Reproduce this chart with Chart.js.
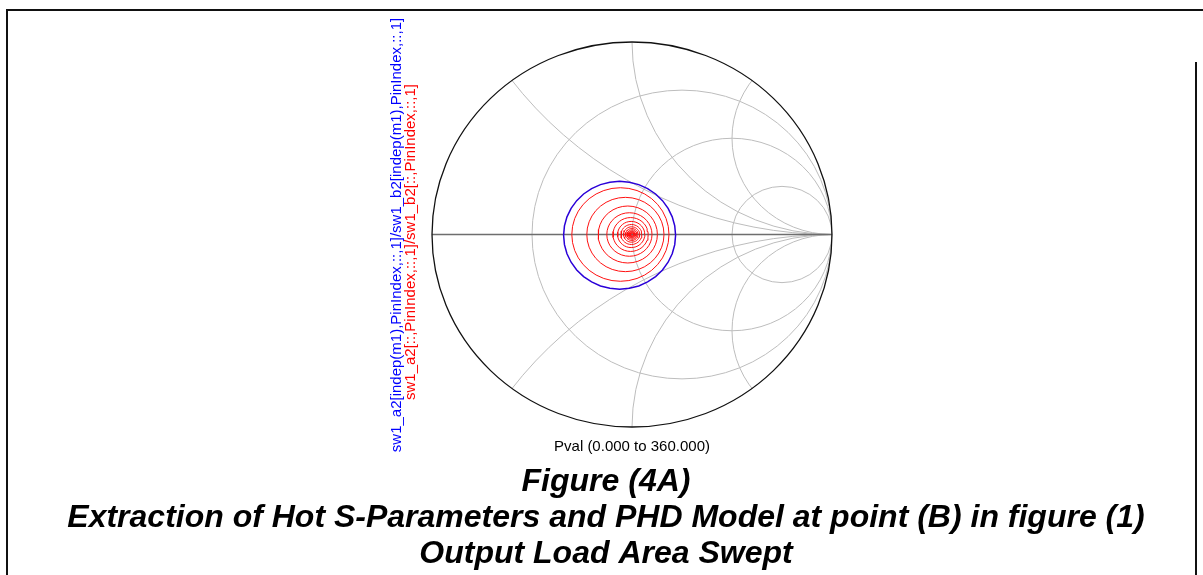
<!DOCTYPE html>
<html lang="en">
<head>
    <meta charset="UTF-8">
    <title>Output Load Area Swept</title>
    <style>
        body {
            margin: 0;
            background: #fff;
        }
        #wrap {
            position: relative;
            width: 1203px;
            height: 575px;
        }
    </style>
</head>
<body>
    <div id="wrap"><canvas id="smith" width="1203" height="575"></canvas></div>

    <script src="https://cdn.jsdelivr.net/npm/chart.js"></script>

    <script>
        // phase sweep of the load (degrees)
        const pval = [0, 10, 20, 30, 40, 50, 60, 70, 80, 90, 100, 110, 120, 130, 140, 150, 160, 170, 180,
                      190, 200, 210, 220, 230, 240, 250, 260, 270, 280, 290, 300, 310, 320, 330, 340, 350, 360];

        // a2/b2 at indep(m1): centre and magnitude of the swept trace
        const blueCenter = [-0.062, -0.004];
        const blueMag = 0.28;

        // a2/b2 for every PinIndex: one ring per step
        const ringMag      = [0.243, 0.193, 0.148, 0.113, 0.088, 0.068, 0.052, 0.040, 0.031, 0.024, 0.018, 0.014, 0.010, 0.007];
        const ringCenterRe = [-0.058, -0.033, -0.021, -0.013, -0.007, -0.004, -0.003, -0.002, -0.001, 0, 0, 0, 0, 0];

        // Smith grid
        const resistanceCircles = [1 / 3, 1, 3];
        const reactanceArcs = [0.5, 1, 2, -0.5, -1, -2];

        const blueLabel = "sw1_a2[indep(m1),PinIndex,::,1]/sw1_b2[indep(m1),PinIndex,::,1]";
        const redLabel = "sw1_a2[::,PinIndex,::,1]/sw1_b2[::,PinIndex,::,1]";
        const sweepLabel = "Pval (0.000 to 360.000)";
        const caption = [
            "Figure (4A)",
            "Extraction of Hot S-Parameters and PHD Model at point (B) in figure (1)",
            "Output Load Area Swept"
        ];

        function trace(cRe, cIm, mag) {
            return pval.map(p => ({
                x: cRe + mag * Math.cos(p * Math.PI / 180),
                y: cIm + mag * Math.sin(p * Math.PI / 180)
            }));
        }

        let datasets = ringMag.map((m, i) => ({
            data: trace(ringCenterRe[i], 0, m),
            borderColor: "#ff1010",
            borderWidth: 1,
            showLine: true,
            pointRadius: 0,
            tension: 0
        }));
        datasets.unshift({
            data: trace(blueCenter[0], blueCenter[1], blueMag),
            borderColor: "#2a00d8",
            borderWidth: 1.5,
            showLine: true,
            pointRadius: 0,
            tension: 0
        });

        function geom(chart) {
            const xs = chart.scales.x, ys = chart.scales.y;
            const cx = xs.getPixelForValue(0), cy = ys.getPixelForValue(0);
            return { cx: cx, cy: cy, kx: xs.getPixelForValue(1) - cx, ky: cy - ys.getPixelForValue(1) };
        }

        const smithGrid = {
            id: "smithGrid",
            beforeDatasetsDraw(chart) {
                const ctx = chart.ctx;
                const g = geom(chart);
                ctx.save();
                ctx.beginPath();
                ctx.ellipse(g.cx, g.cy, g.kx, g.ky, 0, 0, 2 * Math.PI);
                ctx.clip();
                ctx.strokeStyle = "#bdbdbd";
                ctx.lineWidth = 1;
                resistanceCircles.forEach(r => {
                    ctx.beginPath();
                    ctx.ellipse(g.cx + g.kx * r / (1 + r), g.cy, g.kx / (1 + r), g.ky / (1 + r), 0, 0, 2 * Math.PI);
                    ctx.stroke();
                });
                reactanceArcs.forEach(x => {
                    ctx.beginPath();
                    ctx.ellipse(g.cx + g.kx, g.cy - g.ky / x, g.kx / Math.abs(x), g.ky / Math.abs(x), 0, 0, 2 * Math.PI);
                    ctx.stroke();
                });
                ctx.restore();

                // real axis
                ctx.save();
                ctx.strokeStyle = "#6e6e6e";
                ctx.lineWidth = 1.5;
                ctx.beginPath();
                ctx.moveTo(g.cx - g.kx, g.cy);
                ctx.lineTo(g.cx + g.kx, g.cy);
                ctx.stroke();
                ctx.restore();
            },
            afterDatasetsDraw(chart) {
                const ctx = chart.ctx;
                const g = geom(chart);
                ctx.save();
                ctx.strokeStyle = "#111";
                ctx.lineWidth = 1.3;
                ctx.beginPath();
                ctx.ellipse(g.cx, g.cy, g.kx, g.ky, 0, 0, 2 * Math.PI);
                ctx.stroke();
                ctx.restore();
            }
        };

        const labels = {
            id: "labels",
            afterDraw(chart) {
                const ctx = chart.ctx;
                const g = geom(chart);
                ctx.save();

                // page frame
                ctx.strokeStyle = "#111";
                ctx.lineWidth = 2;
                ctx.beginPath();
                ctx.moveTo(7, 575);
                ctx.lineTo(7, 10);
                ctx.lineTo(1203, 10);
                ctx.moveTo(1196, 62);
                ctx.lineTo(1196, 575);
                ctx.stroke();

                ctx.textAlign = "center";
                ctx.textBaseline = "middle";
                ctx.fillStyle = "#000";
                ctx.font = '15px "Liberation Sans", Arial, sans-serif';
                ctx.fillText(sweepLabel, g.cx, 447);

                ctx.save();
                ctx.translate(397, 0);
                ctx.rotate(-Math.PI / 2);
                ctx.fillStyle = "#0000ff";
                ctx.fillText(blueLabel, -235, 0);
                ctx.fillStyle = "#ff0000";
                ctx.fillText(redLabel, -242, 14);
                ctx.restore();

                ctx.textBaseline = "alphabetic";
                ctx.fillStyle = "#000";
                ctx.font = 'italic bold 32px "Liberation Sans", Arial, sans-serif';
                const base = [491, 527, 563];
                caption.forEach((t, i) => ctx.fillText(t, 606, base[i]));
                ctx.restore();
            }
        };

        new Chart(document.getElementById("smith"), {
            type: "scatter",
            data: { datasets: datasets },
            options: {
                responsive: false,
                animation: false,
                layout: { padding: { left: 432, right: 371, top: 42, bottom: 148 } },
                scales: {
                    x: { min: -1, max: 1, display: false },
                    y: { min: -1, max: 1, display: false }
                },
                plugins: {
                    legend: { display: false },
                    tooltip: { enabled: false }
                }
            },
            plugins: [smithGrid, labels]
        });
    </script>
</body>
</html>
